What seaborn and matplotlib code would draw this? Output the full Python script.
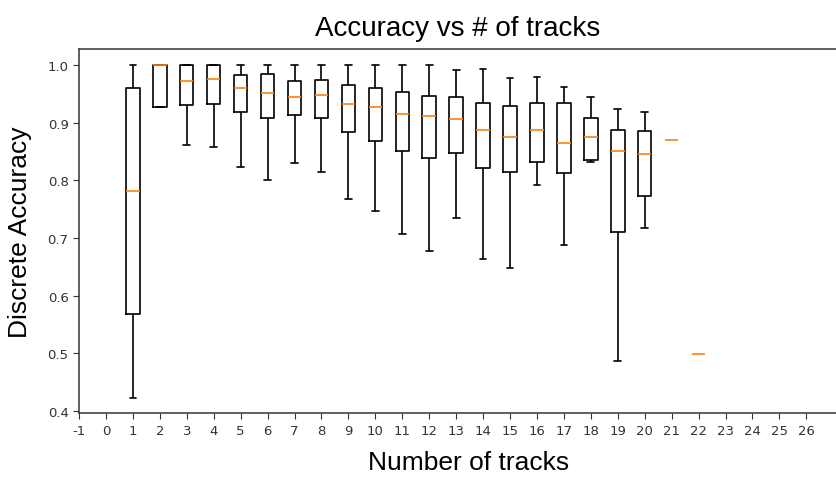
import numpy as np
import pandas as pd
import seaborn as sns
import matplotlib.pyplot as plt

# values
tracks = [1, 2, 3, 4, 5, 6, 7, 8, 9, 10, 11, 12, 13, 14, 15, 16, 17, 18, 19, 20, 21, 22]
mins = [0.422, 0.928, 0.862, 0.858, 0.824, 0.800, 0.830, 0.814, 0.768, 0.747, 0.707,
        0.678, 0.734, 0.663, 0.648, 0.792, 0.687, 0.832, 0.487, 0.718, 0.870, 0.499]
q1s = [0.568, 0.928, 0.931, 0.933, 0.918, 0.909, 0.914, 0.909, 0.884, 0.869, 0.851,
       0.839, 0.847, 0.822, 0.814, 0.831, 0.812, 0.836, 0.711, 0.772, 0.870, 0.499]
medians = [0.782, 1.000, 0.972, 0.976, 0.961, 0.952, 0.944, 0.949, 0.932, 0.928, 0.916,
           0.912, 0.906, 0.887, 0.876, 0.888, 0.864, 0.876, 0.851, 0.845, 0.870, 0.499]
q3s = [0.961, 1.000, 1.000, 1.000, 0.983, 0.985, 0.972, 0.974, 0.965, 0.960, 0.954,
       0.946, 0.944, 0.934, 0.929, 0.935, 0.935, 0.909, 0.888, 0.885, 0.870, 0.499]
maxs = [1.000, 1.000, 1.000, 1.000, 1.000, 1.000, 1.000, 1.000, 1.000, 1.000, 1.000,
        1.000, 0.991, 0.993, 0.978, 0.980, 0.962, 0.944, 0.923, 0.918, 0.870, 0.499]
xticks = list(range(-1, 27))


def build_frame():
    rows = []
    for i, t in enumerate(tracks):
        for v in (mins[i], q1s[i], medians[i], q3s[i], maxs[i]):
            rows.append({'tracks': t, 'accuracy': v})
    return pd.DataFrame(rows)


def main():
    sns.set_style('ticks')
    plt.rcParams['axes.unicode_minus'] = False
    df = build_frame()
    # groups with a single value only show their median line
    spread = df.groupby('tracks')['accuracy'].transform(lambda s: s.max() - s.min())
    full = df[spread > 0]
    flat = df[spread == 0]

    fig = plt.figure(figsize=(8.36, 4.81), dpi=100)
    ax = fig.add_axes([0.0945, 0.1387, 0.9055, 0.7573])
    med = dict(color='#ff7f0e', linewidth=1.2)
    sns.boxplot(data=full, x='tracks', y='accuracy', native_scale=True, ax=ax,
                fill=False, color='black', width=0.5, whis=(0, 100),
                showfliers=False, linewidth=1.2, medianprops=med)
    hidden = dict(alpha=0)
    sns.boxplot(data=flat, x='tracks', y='accuracy', native_scale=True, ax=ax,
                fill=False, color='black', width=0.5, whis=(0, 100),
                showfliers=False, linewidth=1.2, medianprops=med,
                boxprops=hidden, whiskerprops=hidden, capprops=hidden)

    ax.set_xlim(-1, 27.1)
    ax.set_ylim(0.3955, 1.028)
    ax.set_xticks(xticks)
    ax.set_xticklabels([str(t) for t in xticks])
    ax.set_yticks([0.4, 0.5, 0.6, 0.7, 0.8, 0.9, 1.0])
    ax.tick_params(labelsize=9.5, colors='#333333', length=4)
    for s in ax.spines.values():
        s.set_color('#444444')
        s.set_linewidth(1.2)
    ax.spines['right'].set_visible(False)

    font = ['Liberation Sans', 'DejaVu Sans']
    ax.set_title('Accuracy vs # of tracks', fontsize=20, family=font, pad=10,
                 color='black')
    ax.set_xlabel('Number of tracks', fontsize=19, family=font, color='black')
    ax.set_ylabel('Discrete Accuracy', fontsize=19, family=font, color='black')
    ax.xaxis.set_label_coords(0.515, -0.1)
    ax.yaxis.set_label_coords(-0.062, 0.5)

    fig.savefig('out.png', dpi=100)


if __name__ == "__main__":
    main()
